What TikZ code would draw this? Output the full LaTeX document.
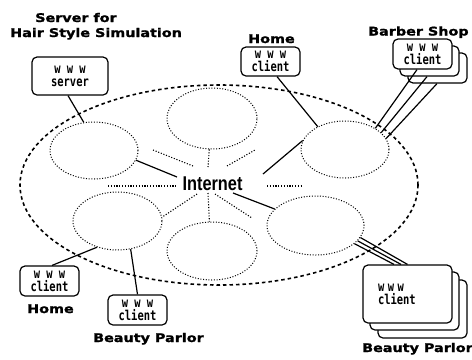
\documentclass[tikz,border=0pt]{standalone}
\usepackage{fontspec}
\usetikzlibrary{shapes.geometric}
\newfontfamily\lblfont{DejaVu Sans}[BoldFeatures={FakeBold=1.2}]
\newfontfamily\inetfont{Liberation Sans}
\newfontfamily\boxfont{DejaVu Sans Mono}
\newcommand\wlbl[1]{\scalebox{1.2}[1]{\lblfont\bfseries\fontsize{12}{14}\selectfont #1}}
\newcommand\btx[1]{\scalebox{1}[1.3]{#1}}
\begin{document}
\begin{tikzpicture}[x=1bp,y=-1bp,
  bigell/.style={draw, ellipse, line width=1.6bp, dash pattern=on 3.5bp off 3bp, inner sep=0},
  smell/.style={draw, ellipse, line width=1bp, dash pattern=on 1bp off 1.7bp, inner sep=0},
  cbox/.style={draw, rounded corners=5bp, line width=1.2bp, fill=white, inner sep=1bp, align=center,
    font=\boxfont\bfseries\fontsize{10.5}{13}\selectfont},
  conn/.style={line width=1.2bp},
  dotln/.style={line width=1.1bp, dash pattern=on 1.1bp off 1.7bp},
  lbl/.style={anchor=base west, inner sep=0}
]
\useasboundingbox (0,0) rectangle (472,359);

% Internet cloud
\node[bigell, minimum width=398bp, minimum height=200bp] (net) at (219,185) {};
\node[smell, minimum width=88bp, minimum height=57bp] (e1) at (94,150.5) {};
\node[smell, minimum width=90bp, minimum height=61bp] (e2) at (212,118.5) {};
\node[smell, minimum width=88bp, minimum height=57bp] (e3) at (345,149.5) {};
\node[smell, minimum width=97bp, minimum height=59bp] (e4) at (315.5,225.5) {};
\node[smell, minimum width=90bp, minimum height=58bp] (e5) at (212,251) {};
\node[smell, minimum width=89bp, minimum height=58bp] (e6) at (117.5,221) {};

\node[inner sep=0, anchor=base] (inet) at (212.5,190)
  {\scalebox{0.82}[1]{\inetfont\bfseries\fontsize{20}{24}\selectfont Internet}};

% free ends around "Internet"
\coordinate (iL) at (177,177);
\coordinate (iR) at (263,174);
\coordinate (iLR) at (233,193);
\coordinate (dT) at (208,167);
\coordinate (dUL1) at (153,150);
\coordinate (dUL2) at (193,166);
\coordinate (dUR1) at (227,166);
\coordinate (dUR2) at (255,150);
\coordinate (dL1) at (108,186);
\coordinate (dL2) at (177,186);
\coordinate (dR1) at (267,186);
\coordinate (dR2) at (302,186);
\coordinate (dB) at (208,193);
\coordinate (dBL) at (197,194);
\coordinate (dBR1) at (215,194);
\coordinate (dBR2) at (252,218);

\draw[conn] (e1.-13) -- (iL);
\draw[conn] (iR) -- (e3.168);
\draw[conn] (iLR) -- (e4.158);
\draw[dotln] (e2.265) -- (dT);
\draw[dotln] (dUL1) -- (dUL2);
\draw[dotln] (dUR1) -- (dUR2);
\draw[dotln] (dL1) -- (dL2);
\draw[dotln] (dR1) -- (dR2);
\draw[dotln] (dB) -- (e5.95);
\draw[dotln] (dBL) -- (e6.5);
\draw[dotln] (dBR1) -- (dBR2);

% Server
\node[cbox, minimum width=76bp, minimum height=38bp] (srv) at (70,76) {\btx{w w w}\\\btx{server}};
\node[lbl] (l1) at (35,22) {\wlbl{Server for}};
\node[lbl] (l2) at (10,37) {\wlbl{Hair Style Simulation}};
\draw[conn] ([xshift=-2bp]srv.south) -- (e1.110);

% Home (top)
\node[cbox, minimum width=59bp, minimum height=29bp] (ht) at (270.5,61.5) {\btx{w w w}\\\btx{client}};
\node[lbl] (l3) at (248,43) {\wlbl{Home}};
\draw[conn] ([xshift=6.5bp]ht.south) -- (e3.140);

% Barber Shop
\node[cbox, minimum width=59bp, minimum height=30bp] (bs3) at (437.5,68) {};
\node[cbox, minimum width=59bp, minimum height=30bp] (bs2) at (429.5,61) {};
\node[cbox, minimum width=59bp, minimum height=30bp] (bs1) at (422.5,54) {\btx{w w w}\\\btx{client}};
\node[lbl] (l4) at (368,35.5) {\wlbl{Barber Shop}};
\draw[conn] ([xshift=-5.5bp]bs1.south) -- (e3.35);
\draw[conn] ([xshift=-2.5bp]bs2.south) -- (e3.25);
\draw[conn] ([xshift=-0.5bp]bs3.south) -- (e3.15);

% Beauty Parlor (right)
\node[cbox, minimum width=89bp, minimum height=58bp] (bp3) at (422.5,309) {};
\node[cbox, minimum width=89bp, minimum height=58bp] (bp2) at (414.5,301) {};
\node[cbox, minimum width=89bp, minimum height=58bp, text width=59bp, align=left] (bp1) at (407.5,294) {\btx{w w w}\\\btx{client}};
\node[lbl] (l7) at (362,352) {\wlbl{Beauty Parlor}};
\draw[conn] (e4.-15) -- (bp1.north);
\draw[conn] (e4.-20) -- ([xshift=-6.5bp]bp1.north);
\draw[conn] (e4.-25) -- ([xshift=-13.5bp]bp1.north);

% Home (bottom)
\node[cbox, minimum width=59bp, minimum height=30bp] (hb) at (49.5,281) {\btx{w w w}\\\btx{client}};
\node[lbl] (l5) at (27,313) {\wlbl{Home}};
\draw[conn] ([xshift=2.5bp]hb.north) -- (e6.232);

% Beauty Parlor (bottom)
\node[cbox, minimum width=59bp, minimum height=30bp] (pb) at (137.5,310) {\btx{w w w}\\\btx{client}};
\node[lbl] (l6) at (93,342) {\wlbl{Beauty Parlor}};
\draw[conn] (pb.north) -- (e6.295);
\end{tikzpicture}
\end{document}
